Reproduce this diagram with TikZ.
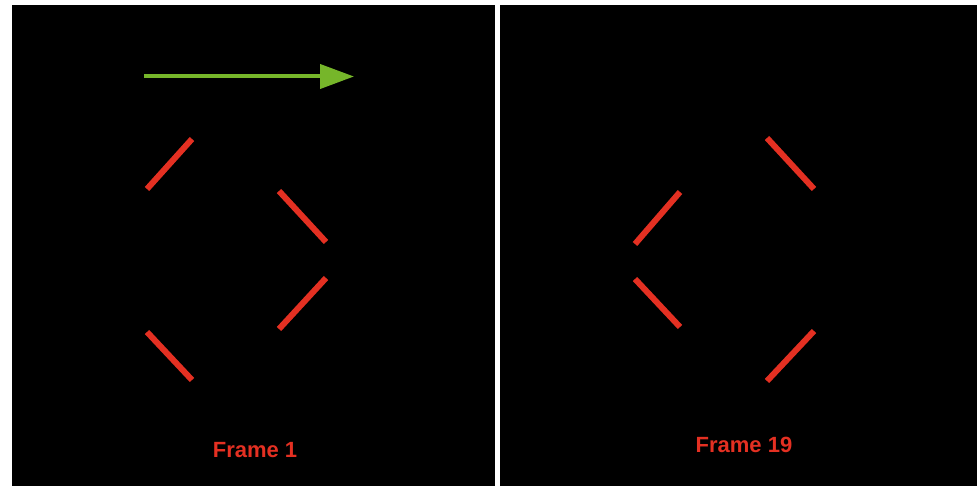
\documentclass[tikz,border=0pt]{standalone}
\usepackage{fontspec}
\setmainfont{Liberation Sans}
\usetikzlibrary{arrows.meta}
\definecolor{barred}{RGB}{228,48,34}
\definecolor{movegreen}{RGB}{118,182,42}
\begin{document}
\begin{tikzpicture}[
        x=1pt, y=-1pt,
        panel/.style={fill=black},
        bar/.style={barred, line width=6pt},
        label/.style={text=barred, font=\fontsize{22}{26}\selectfont\bfseries},
        arrow/.style={-{Triangle[length=34pt,width=24pt]}, movegreen, line width=4pt}
    ]
        \fill[white] (0,0) rectangle (977,486);
        \useasboundingbox (0,0) rectangle (977,486);
        \fill[panel] (12,5) rectangle (495,486);
        \fill[panel] (500,5) rectangle (977,486);

        % left panel: frame 1
        \coordinate (start) at (144,76.5);
        \coordinate (stop) at (354,76.5);
        \draw[arrow] (start) -- (stop);
        \draw[bar] (147,189) -- (192,139);
        \draw[bar] (279,191) -- (326,242);
        \draw[bar] (279,329) -- (326,278);
        \draw[bar] (147,332) -- (192,380);
        \node[label] (first) at (255,450) {Frame 1};

        % right panel: frame 19
        \draw[bar] (767,138) -- (814,189);
        \draw[bar] (635,244) -- (680,192);
        \draw[bar] (635,279) -- (680,327);
        \draw[bar] (767,381) -- (814,331);
        \node[label] (last) at (744,445) {Frame 19};
    \end{tikzpicture}
\end{document}
